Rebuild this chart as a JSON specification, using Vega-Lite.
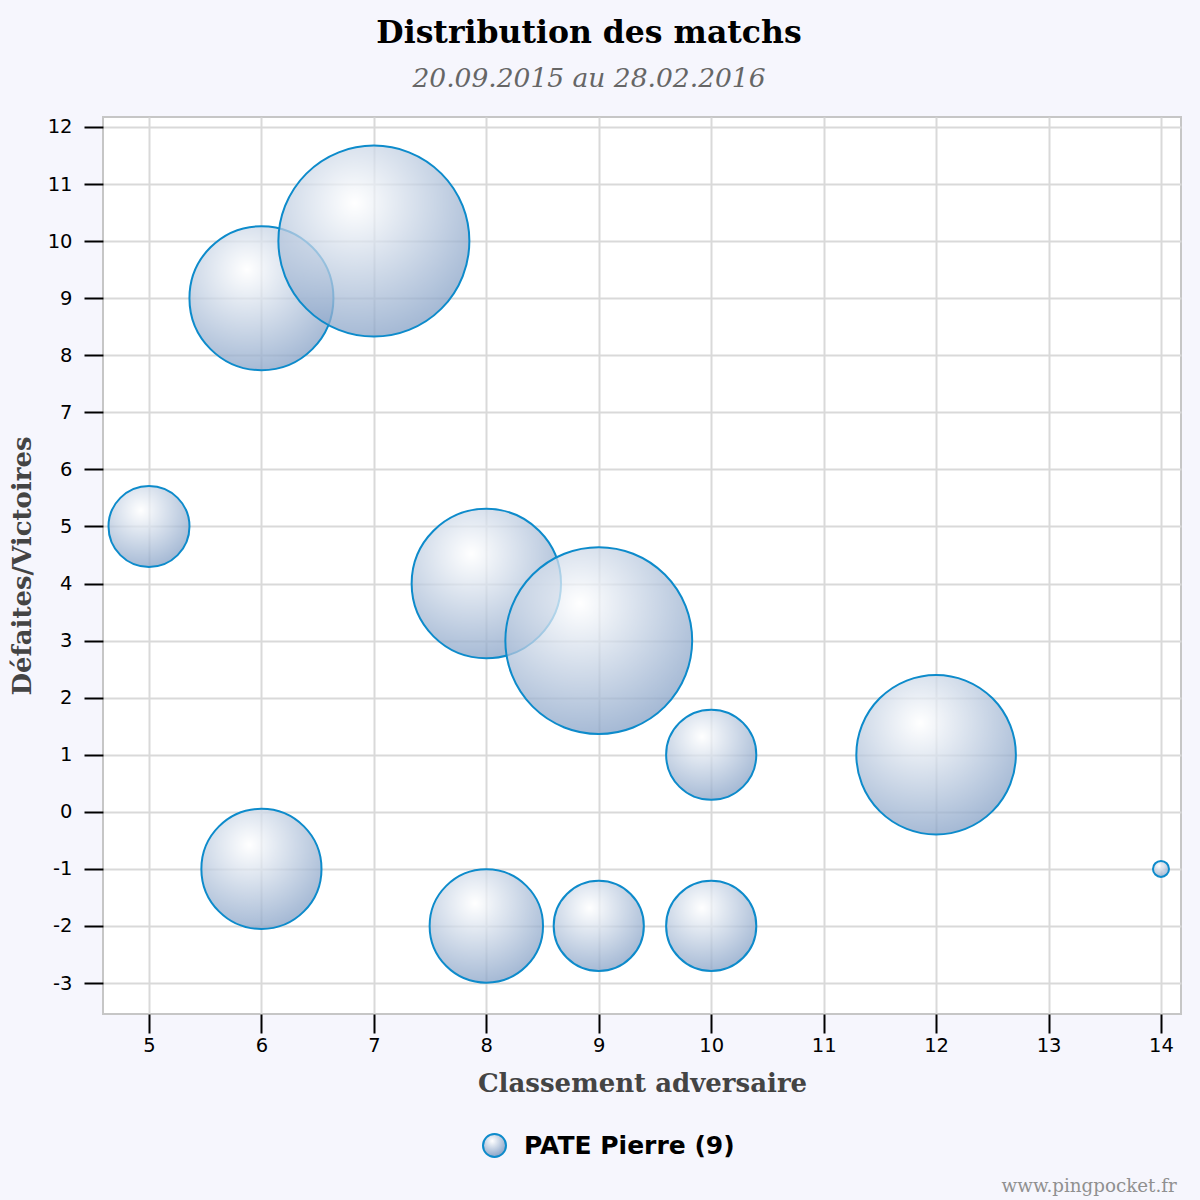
{
  "$schema": "https://vega.github.io/schema/vega-lite/v6.json",
  "autosize": {"type": "none"},
  "width": 1078,
  "height": 897,
  "padding": {"left": 103, "top": 117, "right": 19, "bottom": 186},
  "background": "#f6f6fd",
  "title": {
    "text": "Distribution des matchs",
    "subtitle": "20.09.2015 au 28.02.2016",
    "font": "DejaVu Serif",
    "fontSize": 31.5,
    "fontWeight": "bold",
    "color": "#000000",
    "subtitleFont": "DejaVu Serif",
    "subtitleFontSize": 26.5,
    "subtitleFontStyle": "italic",
    "subtitleColor": "#666666",
    "subtitlePadding": 17,
    "offset": 24,
    "anchor": "middle",
    "dx": -53
  },
  "config": {
    "view": {"fill": "#ffffff", "stroke": "#c6c6c6", "strokeWidth": 2},
    "axis": {
      "domain": false,
      "grid": true,
      "gridColor": "#d9d9d9",
      "gridWidth": 2,
      "tickColor": "#000000",
      "tickWidth": 2,
      "tickSize": 19,
      "labelFont": "DejaVu Sans",
      "labelFontSize": 19.5,
      "labelColor": "#000000",
      "labelExpr": "datum.value + ''",
      "titleFont": "DejaVu Serif",
      "titleFontSize": 26,
      "titleFontWeight": "bold",
      "titleColor": "#444444"
    }
  },
  "layer": [
    {
      "data": {
        "values": [
          {"classement": 5, "bilan": 5, "matchs": 5, "joueur": "PATE Pierre (9)"},
          {"classement": 6, "bilan": 9, "matchs": 14, "joueur": "PATE Pierre (9)"},
          {"classement": 6, "bilan": -1, "matchs": 10, "joueur": "PATE Pierre (9)"},
          {"classement": 7, "bilan": 10, "matchs": 24, "joueur": "PATE Pierre (9)"},
          {"classement": 8, "bilan": 4, "matchs": 15, "joueur": "PATE Pierre (9)"},
          {"classement": 8, "bilan": -2, "matchs": 9, "joueur": "PATE Pierre (9)"},
          {"classement": 9, "bilan": 3, "matchs": 23, "joueur": "PATE Pierre (9)"},
          {"classement": 9, "bilan": -2, "matchs": 6, "joueur": "PATE Pierre (9)"},
          {"classement": 10, "bilan": 1, "matchs": 6, "joueur": "PATE Pierre (9)"},
          {"classement": 10, "bilan": -2, "matchs": 6, "joueur": "PATE Pierre (9)"},
          {"classement": 12, "bilan": 1, "matchs": 17, "joueur": "PATE Pierre (9)"},
          {"classement": 14, "bilan": -1, "matchs": 1, "joueur": "PATE Pierre (9)"}
        ]
      },
      "mark": {
        "type": "circle",
        "fill": {
          "gradient": "radial",
          "x1": 0.4, "y1": 0.3, "r1": 0,
          "x2": 0.4, "y2": 0.3, "r2": 0.72,
          "stops": [
            {"offset": 0, "color": "#ffffff"},
            {"offset": 1, "color": "#86a1c6"}
          ]
        },
        "fillOpacity": 0.75,
        "opacity": 1,
        "strokeWidth": 2,
        "strokeOpacity": 1
      },
      "encoding": {
        "x": {
          "field": "classement",
          "type": "quantitative",
          "scale": {"domain": [4.591, 14.178], "nice": false, "zero": false},
          "axis": {"values": [5, 6, 7, 8, 9, 10, 11, 12, 13, 14], "title": "Classement adversaire", "labelPadding": 3, "titlePadding": 16}
        },
        "y": {
          "field": "bilan",
          "type": "quantitative",
          "scale": {"domain": [-3.543, 12.175], "nice": false, "zero": false},
          "axis": {"values": [-3, -2, -1, 0, 1, 2, 3, 4, 5, 6, 7, 8, 9, 10, 11, 12], "title": "Défaites/Victoires", "labelPadding": 12, "titlePadding": 12}
        },
        "size": {
          "field": "matchs",
          "type": "quantitative",
          "scale": {"domain": [1, 24], "range": [256, 36481]},
          "legend": null
        },
        "stroke": {
          "field": "joueur",
          "type": "nominal",
          "scale": {"range": ["#0d8bcb"]},
          "legend": {
            "title": null,
            "orient": "none",
            "legendX": 379,
            "legendY": 1016,
            "padding": 0,
            "symbolType": "circle",
            "symbolSize": 529,
            "symbolStrokeWidth": 2,
            "labelFont": "DejaVu Sans",
            "labelFontSize": 25,
            "labelFontWeight": "bold",
            "labelColor": "#000000",
            "labelLimit": 0,
            "labelOffset": 17,
            "encode": {
              "symbols": {
                "update": {
                  "fill": {"value": {
                    "gradient": "radial",
                    "x1": 0.4, "y1": 0.3, "r1": 0,
                    "x2": 0.4, "y2": 0.3, "r2": 0.72,
                    "stops": [
                      {"offset": 0, "color": "#ffffff"},
                      {"offset": 1, "color": "#a4b8d6"}
                    ]
                  }},
                  "fillOpacity": {"value": 1}
                }
              }
            }
          }
        }
      }
    },
    {
      "data": {"values": [{"site": "www.pingpocket.fr", "px": 14.14, "py": -6.66}]},
      "mark": {"type": "text", "align": "right", "baseline": "alphabetic", "font": "DejaVu Serif", "fontSize": 18.3, "color": "#909090"},
      "encoding": {
        "x": {"field": "px", "type": "quantitative"},
        "y": {"field": "py", "type": "quantitative"},
        "text": {"field": "site"}
      }
    }
  ]
}
